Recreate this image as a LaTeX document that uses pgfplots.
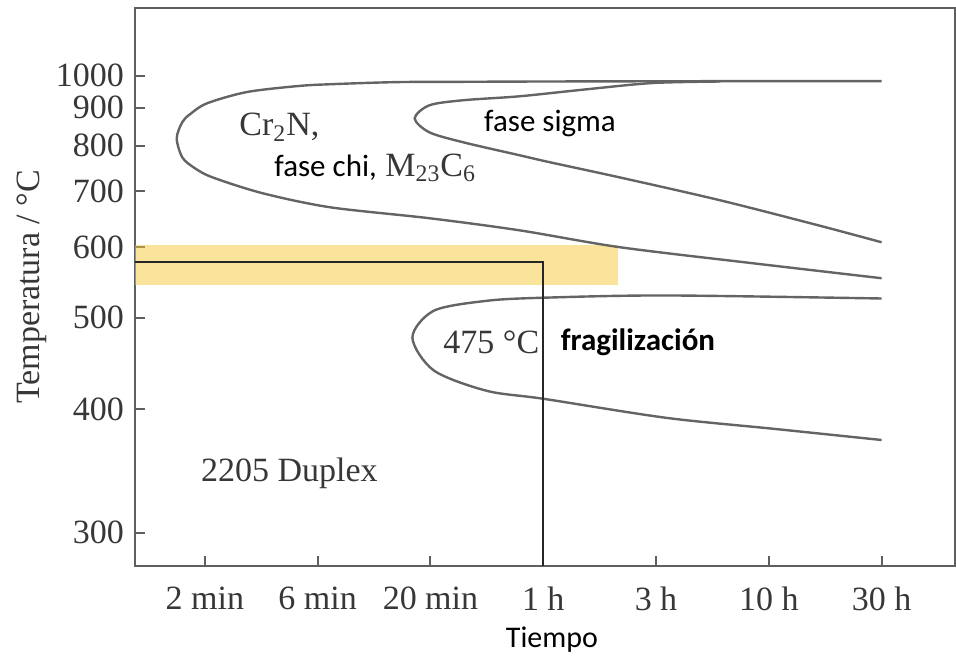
\documentclass[border=0pt]{standalone}
\usepackage{fontspec}
\setmainfont{Liberation Serif}
\newfontfamily\calibri{Carlito}
\usepackage{pgfplots}
\pgfplotsset{compat=1.18}
\definecolor{curve}{RGB}{100,100,100}
\definecolor{frame}{RGB}{95,95,95}
\definecolor{band}{RGB}{246,200,55}
\definecolor{lbl}{RGB}{55,55,55}
\begin{document}
\begin{tikzpicture}
\begin{axis}[
  scale only axis, width=410pt, height=279pt,
  xmin=-0.62, xmax=6.65,
  ymin=278, ymax=1282,
  y coord trafo/.code={\pgfmathparse{-1000/(#1+273)}},
  y coord inv trafo/.code={\pgfmathparse{-1000/#1-273}},
  ytick={300,400,500,600,700,800,900,1000},
  yticklabels={300,400,500,600,700,800,900,1000},
  xtick={0,1,2,3,4,5,6},
  xticklabels={2 min,6 min,20 min,1 h,3 h,10 h,30 h},
  tick pos=left, tick align=inside, major tick length=5pt,
  axis line style={frame, line width=1.1pt},
  tick style={frame, line width=1pt},
  ticklabel style={font=\fontsize{17}{17}\selectfont, text=lbl},
  xticklabel style={yshift=-7pt},
  yticklabel style={xshift=-2pt},
  ylabel={Temperatura / °C},
  ylabel style={at={(axis description cs:-0.1256,0.5)}, anchor=center, font=\fontsize{17}{17}\selectfont, text=lbl},
  xlabel={Tiempo},
  xlabel style={at={(axis description cs:0.5,0)}, anchor=center, yshift=-37pt, xshift=3.5pt, font=\calibri\fontsize{15}{15}\selectfont, text=black},
  clip=true,
]
% yellow highlighted band
\addplot[draw=none, fill=band, fill opacity=0.5] coordinates {(-0.62,543) (3.66,543) (3.66,603) (-0.62,603)} -- cycle;
% Cr2N / chi / M23C6 curve
\addplot[curve, line width=1.2pt, smooth] coordinates {
(6.0,982) (4.4,982) (3.0,981) (2.29,980) (1.70,979) (1.11,972) (0.82,966) (0.37,947) (0.02,913) (-0.13,882) (-0.20,860) (-0.25,818) (-0.20,772) (-0.09,748) (0.07,728) (0.51,696) (1.11,669) (1.99,649) (2.79,628) (3.68,600) (4.86,575) (6.0,553)};
% sigma curve
\addplot[curve, line width=1.2pt, smooth] coordinates {
(4.57,981) (3.97,976) (3.39,956) (2.79,934) (2.29,922) (1.99,907) (1.86,870) (1.99,833) (2.29,808) (2.79,777) (3.06,761) (3.68,728) (4.57,682) (5.45,636) (6.0,608)};
% 475 C embrittlement curve
\addplot[curve, line width=1.2pt, smooth] coordinates {
(6.0,525) (4.09,529) (3.01,526) (2.50,522) (2.03,509) (1.84,476) (2.03,439) (2.50,418) (3.01,410) (4.09,392) (5.04,382) (6.0,372)};
% black path
\addplot[black!85, line width=1.1pt, sharp plot] coordinates {(-0.62,577) (3,577) (3,278)};
% labels
\node[font=\fontsize{17}{17}\selectfont, text=lbl] at (axis cs:0.66,846) {Cr\textsubscript{2}N,};
\node[font=\fontsize{17}{17}\selectfont, text=lbl] at (axis cs:1.51,748) {{\calibri\fontsize{15.5}{15.5}\selectfont\color{black}fase chi,} M\textsubscript{23}C\textsubscript{6}};
\node[font=\calibri\fontsize{15.5}{15.5}\selectfont, text=black] at (axis cs:3.06,857) {fase sigma};
\node[font=\fontsize{17}{17}\selectfont, text=lbl] at (axis cs:2.54,470) {475 °C};
\node[font=\calibri\bfseries\fontsize{15.5}{15.5}\selectfont, text=black] at (axis cs:3.84,470) {fragilización};
\node[font=\fontsize{17}{17}\selectfont, text=lbl] at (axis cs:0.75,344) {2205 Duplex};
\end{axis}
\path ([xshift=-67.5pt,yshift=-47pt]current axis.south west) rectangle ([xshift=0.5pt,yshift=4pt]current axis.north east);
\end{tikzpicture}
\end{document}
